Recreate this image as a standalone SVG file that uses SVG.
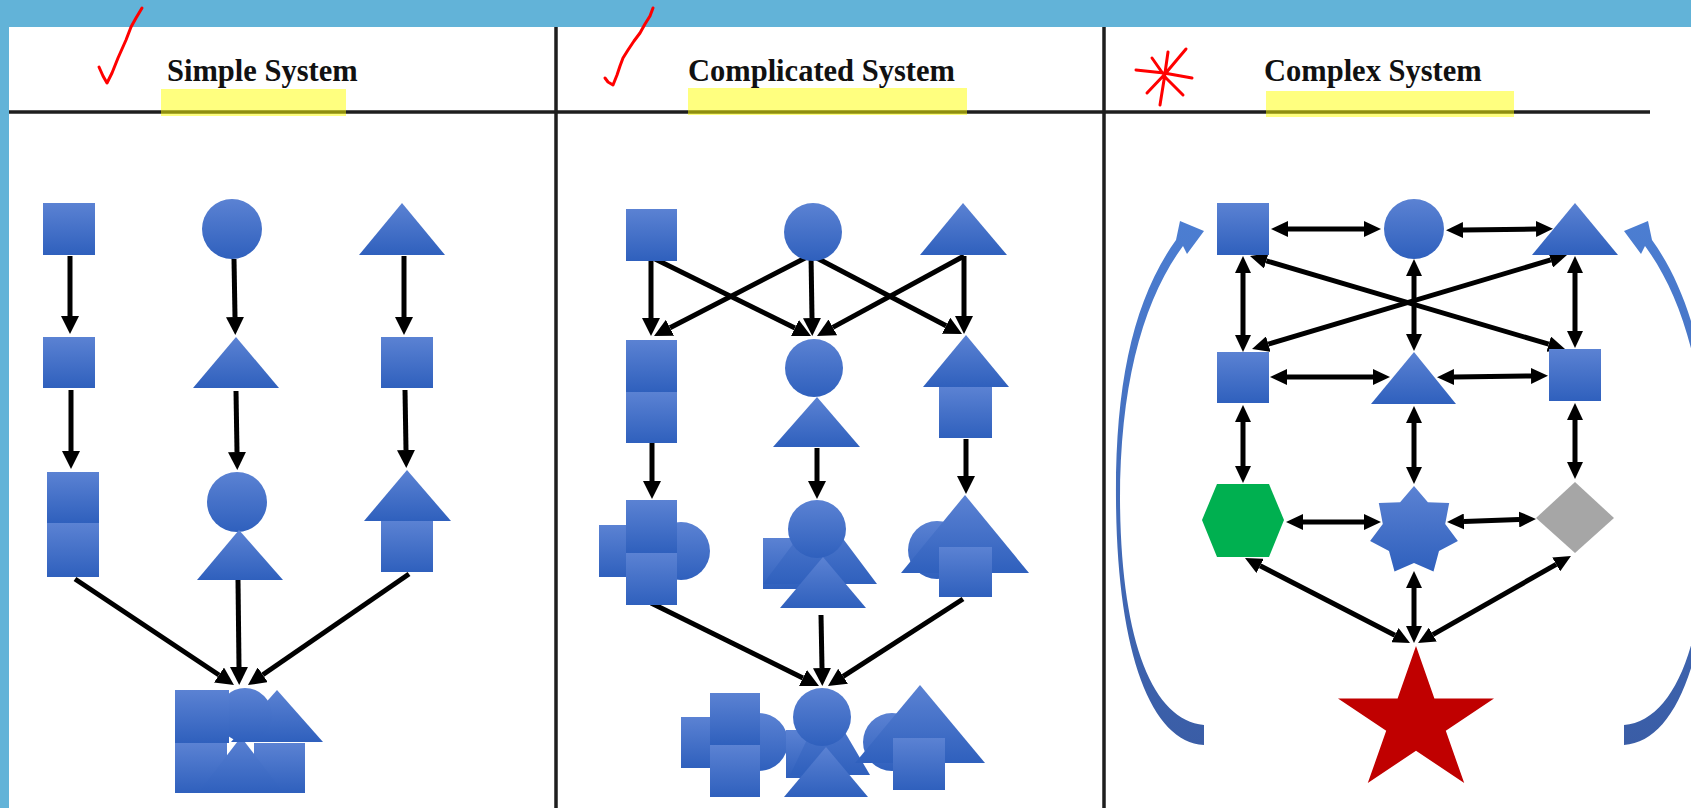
<svg xmlns="http://www.w3.org/2000/svg" xmlns:xlink="http://www.w3.org/1999/xlink" width="1691" height="808" viewBox="0 0 1691 808">
<style>
.b{fill:url(#bg)}
.t{font-family:"Liberation Serif","Times New Roman",serif;font-weight:bold;font-size:30.5px;fill:#111}
.hl{fill:#ffff00;fill-opacity:0.5}
.rule{stroke:#1e1e1e;stroke-width:3.5;fill:none}
.red{stroke:#ff0000;stroke-width:3;fill:none;stroke-linecap:round;stroke-linejoin:round}
.a1{stroke:#000;stroke-width:5;fill:none;marker-end:url(#ah)}
.a3{stroke:#000;stroke-width:5;fill:none;marker-end:url(#as);marker-start:url(#as)}
</style>
<defs>
<linearGradient id="bg" x1="0" y1="0" x2="0" y2="1">
<stop offset="0" stop-color="#5b82d3"/><stop offset="1" stop-color="#2f60bd"/>
</linearGradient>
<linearGradient id="cg" gradientUnits="userSpaceOnUse" x1="0" y1="220" x2="0" y2="745">
<stop offset="0" stop-color="#4c7ed2"/><stop offset="1" stop-color="#3a5da6"/>
</linearGradient>
<marker id="ah" markerUnits="userSpaceOnUse" viewBox="0 0 18 18" markerWidth="18" markerHeight="18" refX="0" refY="9" orient="auto-start-reverse">
<path d="M0,0 L18,9 L0,18 Z" fill="#000"/>
</marker>
<marker id="as" markerUnits="userSpaceOnUse" viewBox="0 0 17 16" markerWidth="17" markerHeight="16" refX="0" refY="8" orient="auto-start-reverse">
<path d="M0,0 L17,8 L0,16 Z" fill="#000"/>
</marker>
<path id="arc" fill="url(#cg)" d="M1204,745 C1150,742 1117,650 1116,500 C1115,385 1133,300 1176,240 L1180,221 L1204,231 L1187,254 L1183,246 C1143,300 1120,385 1120,500 C1121,640 1152,720 1204,725 Z"/>
</defs>

<rect x="0" y="0" width="1691" height="808" fill="#ffffff"/>
<rect x="0" y="0" width="1691" height="27" fill="#62b3d8"/>
<rect x="0" y="0" width="9" height="808" fill="#62b3d8"/>

<g id="frame">
<line class="rule" x1="9" y1="112" x2="1650" y2="112"/>
<line class="rule" x1="556" y1="27" x2="556" y2="808"/>
<line class="rule" x1="1104" y1="27" x2="1104" y2="808"/>
</g>

<g id="title-simple">
<text class="t" x="167" y="81">Simple System</text>
<rect class="hl" x="161" y="89" width="185" height="27"/>
</g>
<g id="title-complicated">
<text class="t" x="688" y="81">Complicated System</text>
<rect class="hl" x="688" y="88" width="279" height="27"/>
</g>
<g id="title-complex">
<text class="t" x="1264" y="81">Complex System</text>
<rect class="hl" x="1266" y="91" width="248" height="26"/>
</g>

<g id="annotations">
<path class="red" d="M99,67 L103,76 L107,83 L112,73 L118,58 L126,40 L131,27 L136,18 L142,8"/>
<path class="red" d="M605,78 L608,82 L613,85 L617,75 L620,66 L623,58 L628,50 L634,41 L640,33 L645,24 L650,16 L653,8"/>
<path class="red" d="M1136,70 L1164,73 L1192,78 M1168,52 L1164,80 L1160,105 M1186,49 L1165,74 L1147,93 M1152,58 L1166,78 L1183,95"/>
</g>

<g id="connectors">
<line class="a1" x1="70" y1="256" x2="70" y2="316"/>
<line class="a1" x1="71" y1="390" x2="71" y2="451"/>
<line class="a1" x1="234" y1="259" x2="235" y2="317"/>
<line class="a1" x1="236" y1="391" x2="237" y2="452"/>
<line class="a1" x1="404" y1="256" x2="404" y2="317"/>
<line class="a1" x1="405" y1="390" x2="406" y2="450"/>
<line class="a1" x1="75" y1="579" x2="219" y2="675"/>
<line class="a1" x1="238" y1="580" x2="239" y2="667"/>
<line class="a1" x1="409" y1="574" x2="262.8" y2="674.8"/>

<line class="a1" x1="651" y1="257" x2="651" y2="318"/>
<line class="a1" x1="651" y1="257" x2="794.9" y2="328"/>
<line class="a1" x1="811" y1="255" x2="670" y2="327.8"/>
<line class="a1" x1="811" y1="255" x2="812" y2="318"/>
<line class="a1" x1="811" y1="255" x2="946.1" y2="325.7"/>
<line class="a1" x1="964" y1="256" x2="832.8" y2="327.4"/>
<line class="a1" x1="964" y1="256" x2="964" y2="316"/>
<line class="a1" x1="652" y1="443" x2="652" y2="481"/>
<line class="a1" x1="817" y1="448" x2="817" y2="481"/>
<line class="a1" x1="966" y1="439" x2="966" y2="476"/>
<line class="a1" x1="651" y1="603" x2="802.9" y2="678"/>
<line class="a1" x1="821" y1="615" x2="822" y2="668"/>
<line class="a1" x1="963" y1="599" x2="843.1" y2="676.3"/>

<line class="a3" x1="1288" y1="229" x2="1364" y2="229"/>
<line class="a3" x1="1463" y1="230" x2="1536" y2="229"/>
<line class="a3" x1="1287" y1="377" x2="1373" y2="377"/>
<line class="a3" x1="1454" y1="377" x2="1531" y2="376"/>
<line class="a3" x1="1303" y1="522" x2="1364" y2="522"/>
<line class="a3" x1="1464" y1="521.5" x2="1519" y2="519.5"/>
<line class="a3" x1="1243" y1="273" x2="1243" y2="335"/>
<line class="a3" x1="1414" y1="276" x2="1414" y2="334"/>
<line class="a3" x1="1575" y1="273" x2="1575" y2="331"/>
<line class="a3" x1="1266.3" y1="260.8" x2="1548.7" y2="344.2"/>
<line class="a3" x1="1550.7" y1="259.9" x2="1268.3" y2="344.1"/>
<line class="a3" x1="1243" y1="422" x2="1243" y2="466"/>
<line class="a3" x1="1414" y1="423" x2="1414" y2="467"/>
<line class="a3" x1="1575" y1="420" x2="1575" y2="462"/>
<line class="a3" x1="1260.1" y1="565.8" x2="1394.9" y2="635.2"/>
<line class="a3" x1="1414" y1="588" x2="1414" y2="626"/>
<line class="a3" x1="1556.2" y1="564.4" x2="1432.8" y2="634.6"/>
</g>

<!-- Panel 1: Simple -->
<g id="s-r1c1"><rect class="b" x="43" y="203" width="52" height="52"/></g>
<g id="s-r1c2"><circle class="b" cx="232" cy="229" r="30"/></g>
<g id="s-r1c3"><polygon class="b" points="402,203 445,255 359,255"/></g>
<g id="s-r2c1"><rect class="b" x="43" y="337" width="52" height="51"/></g>
<g id="s-r2c2"><polygon class="b" points="236,337 279,388 193,388"/></g>
<g id="s-r2c3"><rect class="b" x="381" y="337" width="52" height="51"/></g>
<g id="s-r3c1"><rect class="b" x="47" y="472" width="52" height="51"/><rect class="b" x="47" y="523" width="52" height="54"/></g>
<g id="s-r3c2"><circle class="b" cx="237" cy="502" r="30"/><polygon class="b" points="239,530 283,580 197,580"/></g>
<g id="s-r3c3"><polygon class="b" points="407,470 451,521 364,521"/><rect class="b" x="381" y="521" width="52" height="51"/></g>
<g id="s-result">
<rect class="b" x="175" y="743" width="52" height="50"/>
<rect class="b" x="254" y="743" width="51" height="50"/>
<polygon class="b" points="241,737 284,793 198,793"/>
<polygon class="b" points="277,690 323,742 231,742"/>
<circle class="b" cx="245" cy="715" r="27"/>
<rect class="b" x="175" y="690" width="54" height="53"/>
</g>

<!-- Panel 2: Complicated -->
<g id="c-r1c1"><rect class="b" x="626" y="209" width="51" height="52"/></g>
<g id="c-r1c2"><circle class="b" cx="813" cy="232" r="29"/></g>
<g id="c-r1c3"><polygon class="b" points="963,203 1007,255 920,255"/></g>
<g id="c-r2c1"><rect class="b" x="626" y="340" width="51" height="52"/><rect class="b" x="626" y="392" width="51" height="51"/></g>
<g id="c-r2c2"><circle class="b" cx="814" cy="368" r="29"/><polygon class="b" points="817,397 860,447 773,447"/></g>
<g id="c-r2c3"><polygon class="b" points="966,335 1009,387 923,387"/><rect class="b" x="939" y="387" width="53" height="51"/></g>
<g id="c-r3c1"><rect class="b" x="599" y="525" width="52" height="52"/><circle class="b" cx="681" cy="551" r="29"/><rect class="b" x="626" y="500" width="51" height="53"/><rect class="b" x="626" y="553" width="51" height="52"/></g>
<g id="c-r3c2"><rect class="b" x="763" y="538" width="52" height="51"/><polygon class="b" points="820,508 877,584 763,584"/><circle class="b" cx="817" cy="529" r="29"/><polygon class="b" points="823,557 866,608 780,608"/></g>
<g id="c-r3c3"><circle class="b" cx="937" cy="550" r="29"/><polygon class="b" points="965,495 1029,573 901,573"/><rect class="b" x="939" y="547" width="53" height="50"/></g>
<g id="c-result">
<rect class="b" x="681" y="717" width="52" height="51"/>
<circle class="b" cx="759" cy="742" r="29"/>
<rect class="b" x="710" y="693" width="50" height="52"/>
<rect class="b" x="710" y="745" width="50" height="52"/>
<rect class="b" x="786" y="730" width="52" height="48"/>
<polygon class="b" points="826,700 870,775 790,775"/>
<circle class="b" cx="822" cy="717" r="29"/>
<polygon class="b" points="826,747 868,797 784,797"/>
<circle class="b" cx="892" cy="742" r="29"/>
<polygon class="b" points="920,685 985,763 855,763"/>
<rect class="b" x="893" y="738" width="52" height="52"/>
</g>

<!-- Panel 3: Complex -->
<g id="x-r1c1"><rect class="b" x="1217" y="203" width="52" height="52"/></g>
<g id="x-r1c2"><circle class="b" cx="1414" cy="229" r="30"/></g>
<g id="x-r1c3"><polygon class="b" points="1575,203 1618,255 1532,255"/></g>
<g id="x-r2c1"><rect class="b" x="1217" y="352" width="52" height="51"/></g>
<g id="x-r2c2"><polygon class="b" points="1414,352 1456,404 1371,404"/></g>
<g id="x-r2c3"><rect class="b" x="1549" y="349" width="52" height="52"/></g>
<g id="x-hexagon"><polygon fill="#00b050" points="1217,484 1269,484 1284,520 1269,557 1217,557 1202,520"/></g>
<g id="x-star7"><polygon class="b" points="1414,486 1427.9,502.2 1449.2,502.9 1445.2,523.9 1457.9,541 1439,551 1433.5,571.5 1414,563 1394.5,571.5 1389,551 1370.1,541 1382.8,523.9 1378.8,502.9 1400.1,502.2"/></g>
<g id="x-diamond"><polygon fill="#a6a6a6" points="1575,482 1614,518 1575,553 1536,518"/></g>
<g id="x-star5"><polygon fill="#c00000" points="1416,646 1434.4,698.4 1494,698.4 1445.8,730.8 1464.2,783.1 1416,750.7 1367.8,783.1 1386.2,730.8 1338,698.4 1397.6,698.4"/></g>
<g id="x-loop-left"><use xlink:href="#arc" href="#arc"/></g>
<g id="x-loop-right"><use xlink:href="#arc" href="#arc" transform="matrix(-1 0 0 1 2828 0)"/></g>
</svg>
